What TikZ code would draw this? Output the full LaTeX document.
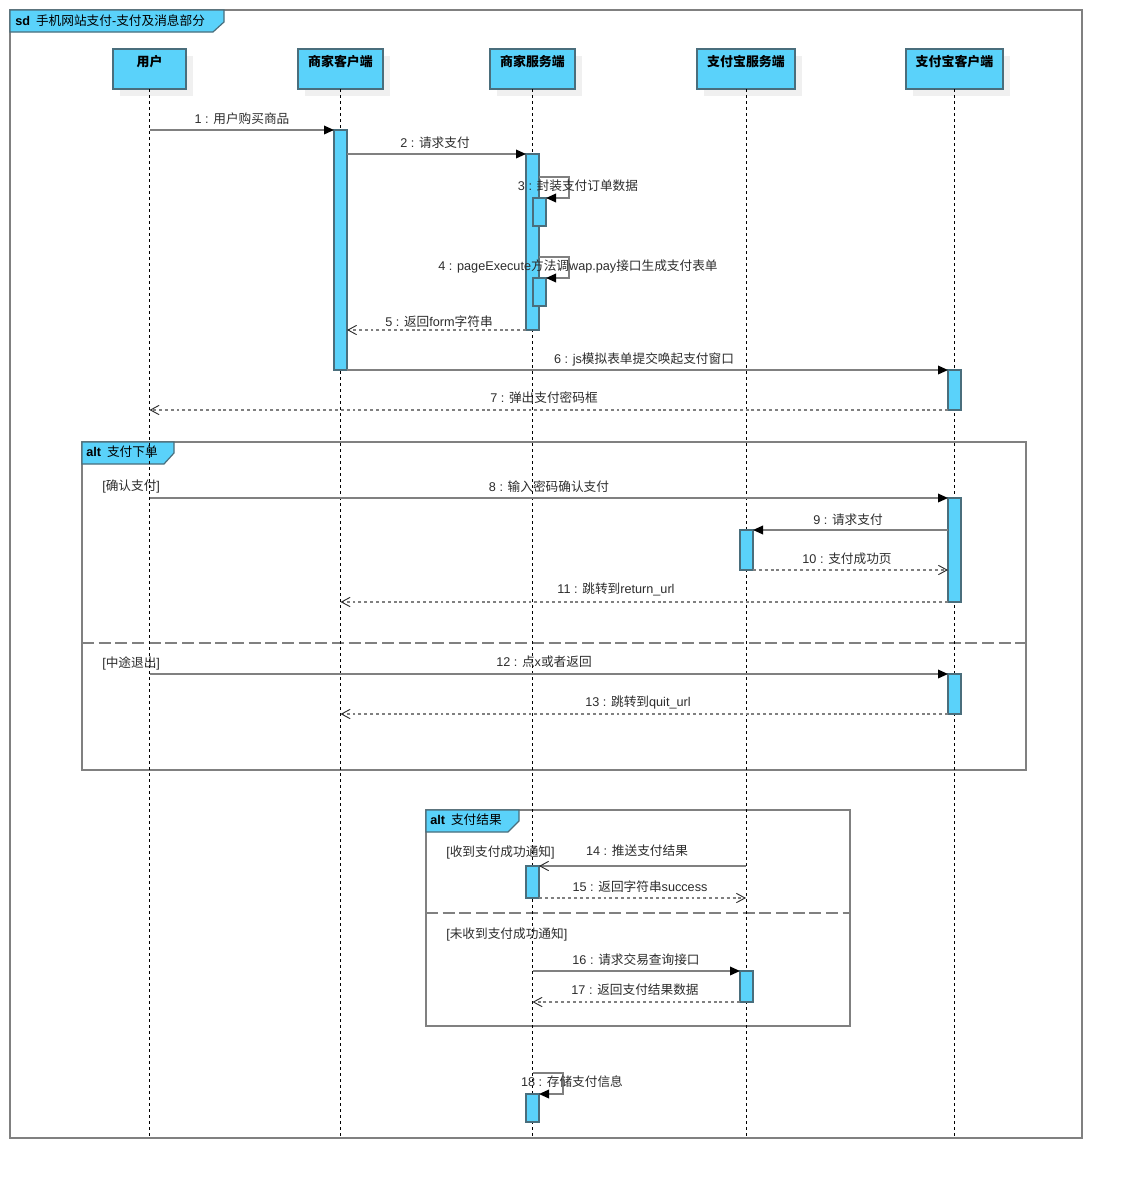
\documentclass[tikz,border=0pt]{standalone}
\usepackage{fontspec}
\setmainfont{Noto Sans CJK SC}
\newfontfamily\lat{Liberation Sans}
\usetikzlibrary{arrows.meta,fit}
\definecolor{cyanf}{RGB}{90,210,250}
\definecolor{hbord}{RGB}{74,110,124}
\definecolor{lgray}{RGB}{128,128,128}
\definecolor{shad}{RGB}{240,240,240}
\definecolor{txtc}{RGB}{45,45,45}
\tikzset{
  actbox/.style={draw=hbord, fill=cyanf, line width=0.9pt, inner sep=0pt, outer sep=0pt},
  headbox/.style={draw=hbord, fill=cyanf, line width=1pt, inner sep=0pt, outer sep=0pt},
  headtxt/.style={font=\fontsize{9.7pt}{11pt}\selectfont\bfseries, text=black, inner sep=0pt},
  lab/.style={font=\fontsize{9.5pt}{11pt}\selectfont, text=txtc, inner sep=0pt},
  life/.style={draw=black, line width=0.75pt, dash pattern=on 2.5pt off 2pt},
  frm/.style={draw=lgray, line width=1.1pt},
  tab/.style={draw=hbord, fill=cyanf, line width=0.9pt},
  divline/.style={draw=lgray, line width=1.1pt, dash pattern=on 9pt off 3.5pt},
  sync/.style={draw=lgray, line width=1pt, -{Triangle[length=7.5pt,width=6.5pt,color=black]}},
  syncopen/.style={draw=lgray, line width=1pt, -{Straight Barb[length=6.5pt,width=7pt,color=txtc,line width=0.7pt]}},
  ret/.style={draw=lgray, line width=1pt, dash pattern=on 2.2pt off 2.2pt, -{Straight Barb[length=6.5pt,width=7pt,color=txtc,line width=0.7pt]}}
}
\newcommand{\mkact}[5]{\coordinate (#1-p) at (#2,#3); \coordinate (#1-q) at (#4,#5); \node[actbox, fit=(#1-p)(#1-q)] (#1) {};}
\newcommand{\mkhead}[6]{\fill[shad] ({#2+7},{#3+7}) rectangle ({#4+7},{#5+7}); \coordinate (#1-p) at (#2,#3); \coordinate (#1-q) at (#4,#5); \node[headbox, fit=(#1-p)(#1-q)] (#1) {}; \node[headtxt] (#1-t) at ({(#2+#4)/2},62) {#6};}
\begin{document}
\begin{tikzpicture}[x=0.75pt,y=-0.75pt]
\useasboundingbox (0,0) rectangle (1122,1178);
\fill[white] (0,0) rectangle (1122,1178);
% main frame
\draw[frm] (10,10) rectangle (1082,1138);
\draw[tab] (10,10) -- (224,10) -- (224,22) -- (213,32) -- (10,32) -- cycle;
\node[lab, text=black, anchor=west] (title) at (15,21) {{\lat\bfseries sd}\hspace{4.5pt}手机网站支付{\lat -}支付及消息部分};
% alt frame 1
\draw[frm] (82,442) rectangle (1026,770);
\draw[tab] (82,442) -- (174,442) -- (174,453) -- (164,464) -- (82,464) -- cycle;
\node[lab, text=black, anchor=west] (alt1) at (86,452) {{\lat\bfseries alt}\hspace{4.5pt}支付下单};
\draw[divline] (82,643) -- (1026,643);
% alt frame 2
\draw[frm] (426,810) rectangle (850,1026);
\draw[tab] (426,810) -- (519,810) -- (519,821) -- (508,832) -- (426,832) -- cycle;
\node[lab, text=black, anchor=west] (alt2) at (430,820) {{\lat\bfseries alt}\hspace{4.5pt}支付结果};
\draw[divline] (426,913) -- (850,913);
% heads
\mkhead{u}{113}{49}{186}{89}{用户}
\mkhead{mc}{298}{49}{383}{89}{商家客户端}
\mkhead{ms}{490}{49}{575}{89}{商家服务端}
\mkhead{as}{697}{49}{795}{89}{支付宝服务端}
\mkhead{ac}{906}{49}{1003}{89}{支付宝客户端}
\coordinate (bot) at (0,1138);
\foreach \n in {u,mc,ms,as,ac} { \draw[life] (\n.south) -- (\n.south |- bot); }
% activations
\mkact{amc1}{334}{130}{347}{370}
\mkact{ams1}{526}{154}{539}{330}
\mkact{ams2}{533}{198}{546}{226}
\mkact{ams3}{533}{278}{546}{306}
\mkact{aac1}{948}{370}{961}{410}
\mkact{aac2}{948}{498}{961}{602}
\mkact{aas1}{740}{530}{753}{570}
\mkact{aac3}{948}{674}{961}{714}
\mkact{ams4}{526}{866}{539}{898}
\mkact{aas2}{740}{971}{753}{1002}
\mkact{ams5}{526}{1094}{539}{1122}
% messages
\draw[sync] (u |- amc1.north) -- (amc1.north west);
\draw[sync] (amc1.east |- ams1.north) -- (ams1.north west);
\coordinate (m3) at (569,177);
\draw[sync] (ams1.east |- m3) -- (m3) |- (ams2.north east);
\coordinate (m4) at (569,257);
\draw[sync] (ams1.east |- m4) -- (m4) |- (ams3.north east);
\draw[ret] (ams1.south west) -- (amc1.east |- ams1.south);
\draw[sync] (amc1.south east) -- (aac1.north west);
\draw[ret] (aac1.south west) -- (u |- aac1.south);
\draw[sync] (u |- aac2.north) -- (aac2.north west);
\draw[sync] (aac2.west |- aas1.north) -- (aas1.north east);
\draw[ret] (aas1.south east) -- (aac2.west |- aas1.south);
\draw[ret] (aac2.south west) -- (mc |- aac2.south);
\draw[sync] (u |- aac3.north) -- (aac3.north west);
\draw[ret] (aac3.south west) -- (mc |- aac3.south);
\draw[syncopen] (as |- ams4.north) -- (ams4.north east);
\draw[ret] (ams4.south east) -- (as |- ams4.south);
\draw[sync] (ms |- aas2.north) -- (aas2.north west);
\draw[ret] (aas2.south west) -- (ms |- aas2.south);
\coordinate (m18) at (563,1073);
\draw[sync] (ms |- m18) -- (m18) |- (ams5.north east);
% labels
\node[lab] (l1) at (242,119) {{\lat 1 : }用户购买商品};
\node[lab] (l2) at (435,143) {{\lat 2 : }请求支付};
\node[lab] (l3) at (578,186) {{\lat 3 : }封装支付订单数据};
\node[lab] (l4) at (578,266) {{\lat 4 : pageExecute}方法调{\lat wap.pay}接口生成支付表单};
\node[lab] (l5) at (439,322) {{\lat 5 : }返回{\lat form}字符串};
\node[lab] (l6) at (644,359) {{\lat 6 : js}模拟表单提交唤起支付窗口};
\node[lab] (l7) at (544,398) {{\lat 7 : }弹出支付密码框};
\node[lab] (l8) at (549,487) {{\lat 8 : }输入密码确认支付};
\node[lab] (l9) at (848,520) {{\lat 9 : }请求支付};
\node[lab] (l10) at (847,559) {{\lat 10 : }支付成功页};
\node[lab] (l11) at (616,589) {{\lat 11 : }跳转到{\lat return\_url}};
\node[lab] (l12) at (544,662) {{\lat 12 : }点{\lat x}或者返回};
\node[lab] (l13) at (638,702) {{\lat 13 : }跳转到{\lat quit\_url}};
\node[lab] (l14) at (637,851) {{\lat 14 : }推送支付结果};
\node[lab] (l15) at (640,887) {{\lat 15 : }返回字符串{\lat success}};
\node[lab] (l16) at (636,960) {{\lat 16 : }请求交易查询接口};
\node[lab] (l17) at (635,990) {{\lat 17 : }返回支付结果数据};
\node[lab] (l18) at (572,1082) {{\lat 18 : }存储支付信息};
% guards
\node[lab, anchor=west] (g1) at (102,486) {{\lat [}确认支付{\lat ]}};
\node[lab, anchor=west] (g2) at (102,663) {{\lat [}中途退出{\lat ]}};
\node[lab, anchor=west] (g3) at (446,852) {{\lat [}收到支付成功通知{\lat ]}};
\node[lab, anchor=west] (g4) at (446,934) {{\lat [}未收到支付成功通知{\lat ]}};
\end{tikzpicture}
\end{document}
